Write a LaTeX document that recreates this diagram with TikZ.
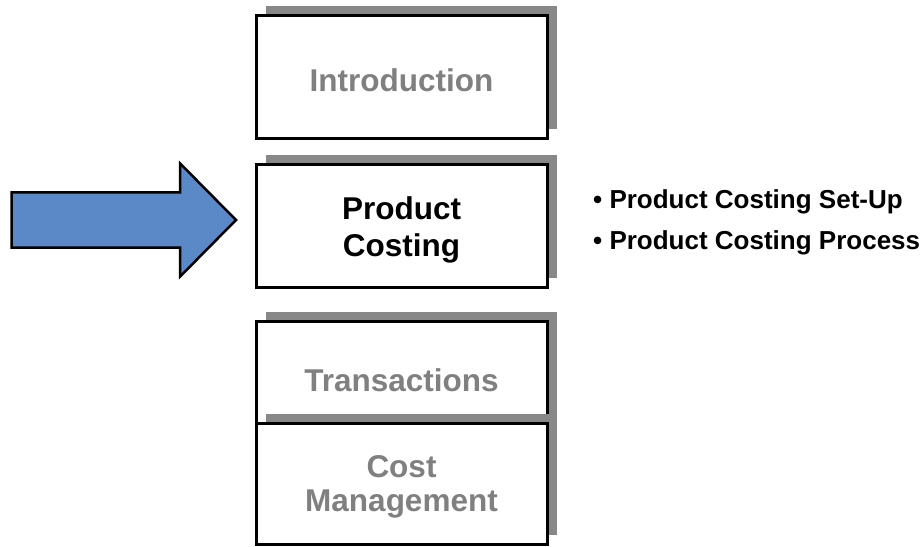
\documentclass[tikz,border=0pt]{standalone}
\usepackage{fontspec}
\setmainfont{Liberation Sans}
\usetikzlibrary{shadows}
\definecolor{shadowc}{RGB}{136,136,136}
\definecolor{greytext}{RGB}{128,128,128}
\definecolor{arrowblue}{RGB}{91,136,198}
\tikzset{
  box/.style={draw=black, line width=3pt, fill=white, minimum width=291pt, minimum height=123pt, inner sep=0pt,
    drop shadow={shadow xshift=10pt, shadow yshift=9.5pt, opacity=1, fill=shadowc}},
  boxtext/.style={font=\fontsize{31.5}{37}\selectfont\bfseries, align=center, inner sep=0pt},
  bultext/.style={font=\fontsize{26}{30}\selectfont\bfseries, inner sep=0pt, anchor=base west},
  bigarrow/.style={draw=black, line width=2.5pt, fill=arrowblue, line join=miter}
}
\begin{document}
\begin{tikzpicture}[x=1pt, y=-1pt]
\useasboundingbox (0,0) rectangle (920,546);
% boxes
\node[box] (intro) at (401.5,76.5) {};
\node[box] (prod) at (401.5,225.5) {};
\node[box] (trans) at (401.5,382.5) {};
\node[box, minimum height=121pt] (cost) at (401.5,483.5) {};
% texts
\node[boxtext, text=greytext] (tintro) at (401.5,80) {Introduction};
\node[boxtext, text=black] (tprod) at (401.5,229.6) {Product\\Costing};
\node[boxtext, text=greytext] (ttrans) at (401.5,380) {Transactions};
\node[boxtext, text=greytext, font=\fontsize{31.5}{33.5}\selectfont\bfseries] (tcost) at (401.5,486.7) {Cost\\Management};
% bullets
\node[bultext] (b1) at (593,208) {• Product Costing Set-Up};
\node[bultext] (b2) at (593,249) {• Product Costing Process};
% arrow
\draw[bigarrow] (11.7,192.3) -- (180,192.3) -- (180,163.3) -- (236,220) -- (180,276.7) -- (180,247.7) -- (11.7,247.7) -- cycle;
\end{tikzpicture}
\end{document}
